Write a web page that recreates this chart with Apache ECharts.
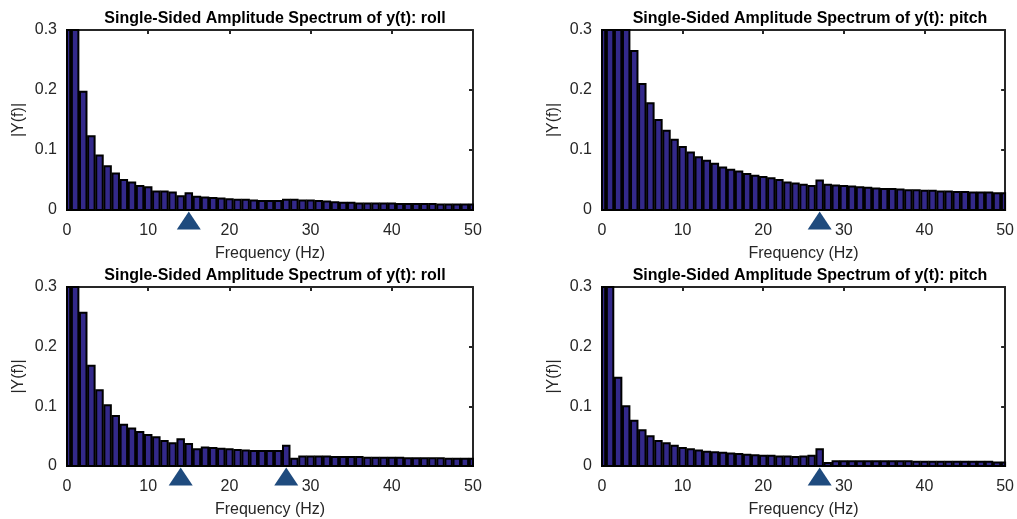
<!DOCTYPE html>
<html>
<head>
<meta charset="utf-8">
<script src="https://cdn.jsdelivr.net/npm/echarts@6/dist/echarts.min.js"></script>
<style>
html,body{margin:0;padding:0;background:#fff;}
#chart{width:1017px;height:519px;}
</style>
</head>
<body>
<div id="chart"></div>
<script>
// Frequency bins (Hz)
const freq = [0,1,2,3,4,5,6,7,8,9,10,11,12,13,14,15,16,17,18,19,20,21,22,23,24,25,26,27,28,29,30,31,32,33,34,35,36,37,38,39,40,41,42,43,44,45,46,47,48,49,50];

// |Y(f)| values for each panel
const rollTop = [0.80,0.36,0.197,0.123,0.091,0.073,0.061,0.050,0.046,0.040,0.038,0.031,0.031,0.029,0.023,0.028,0.022,0.021,0.020,0.019,0.018,0.017,0.017,0.016,0.015,0.015,0.015,0.017,0.017,0.016,0.016,0.015,0.014,0.013,0.012,0.012,0.011,0.011,0.011,0.011,0.011,0.010,0.010,0.010,0.010,0.010,0.009,0.009,0.009,0.009,0.009];
const pitchTop = [0.90,0.60,0.45,0.33,0.265,0.21,0.178,0.150,0.132,0.117,0.105,0.096,0.088,0.082,0.077,0.071,0.067,0.064,0.060,0.057,0.055,0.053,0.050,0.046,0.044,0.042,0.040,0.049,0.042,0.041,0.040,0.039,0.038,0.037,0.036,0.035,0.035,0.034,0.033,0.033,0.032,0.032,0.031,0.031,0.030,0.030,0.029,0.029,0.029,0.028,0.028];
const rollBottom = [0.75,0.42,0.257,0.168,0.127,0.102,0.084,0.069,0.063,0.057,0.052,0.048,0.042,0.038,0.045,0.037,0.028,0.031,0.030,0.029,0.028,0.027,0.026,0.025,0.025,0.025,0.025,0.034,0.012,0.016,0.016,0.016,0.016,0.015,0.015,0.015,0.015,0.014,0.014,0.014,0.014,0.014,0.013,0.013,0.013,0.013,0.013,0.012,0.012,0.012,0.012];
const pitchBottom = [0.70,0.40,0.148,0.100,0.076,0.060,0.050,0.042,0.038,0.034,0.030,0.028,0.026,0.024,0.023,0.022,0.021,0.020,0.019,0.018,0.017,0.017,0.016,0.016,0.015,0.016,0.017,0.028,0.005,0.008,0.008,0.008,0.008,0.008,0.008,0.008,0.008,0.008,0.008,0.007,0.007,0.007,0.007,0.007,0.007,0.007,0.007,0.007,0.007,0.006,0.006];

// Marker (triangle) frequencies per panel
const markersRollTop = [15];
const markersPitchTop = [27];
const markersRollBottom = [14, 27];
const markersPitchBottom = [27];

// Tick labels
const xTicks = [0,10,20,30,40,50];
const yTicks = [0,0.1,0.2,0.3];

const titles = [
  'Single-Sided Amplitude Spectrum of y(t): roll',
  'Single-Sided Amplitude Spectrum of y(t): pitch',
  'Single-Sided Amplitude Spectrum of y(t): roll',
  'Single-Sided Amplitude Spectrum of y(t): pitch'
];
const panelValues = [rollTop, pitchTop, rollBottom, pitchBottom];
const panelMarkers = [markersRollTop, markersPitchTop, markersRollBottom, markersPitchBottom];

const FONT = '"Liberation Sans", Arial, Helvetica, sans-serif';
const AX = '#262626';
const BAR = '#33298a';
const TRI = '#1f4b7e';

const grids = [
  {left: 67, top: 30, width: 406, height: 180},
  {left: 602, top: 30, width: 406, height: 180},
  {left: 67, top: 287, width: 406, height: 180},
  {left: 602, top: 287, width: 406, height: 180}
];

const chart = echarts.init(document.getElementById('chart'), null, {renderer: 'canvas'});

const xAxes = [], yAxes = [], series = [], titleOpts = [];
grids.forEach((g, i) => {
  titleOpts.push({
    text: titles[i],
    left: g.left + g.width / 2,
    top: g.top - 24,
    textAlign: 'center',
    textStyle: {fontFamily: FONT, fontSize: 16, fontWeight: 'bold', color: '#000'}
  });
  const axisLine = {show: true, onZero: false, lineStyle: {color: AX, width: 2}};
  const tick = {show: true, inside: true, length: 4, lineStyle: {color: AX, width: 2}};
  xAxes.push({
    gridIndex: i, type: 'value', position: 'bottom', min: xTicks[0], max: xTicks[xTicks.length - 1], interval: 10,
    axisLine, axisTick: tick, splitLine: {show: false},
    axisLabel: {show: true, margin: 13, fontFamily: FONT, fontSize: 16, color: AX},
    name: 'Frequency (Hz)', nameLocation: 'middle', nameGap: 36,
    nameTextStyle: {fontFamily: FONT, fontSize: 16, color: AX}
  });
  xAxes.push({
    gridIndex: i, type: 'value', position: 'top', min: 0, max: 50, interval: 10,
    axisLine, axisTick: tick, splitLine: {show: false}, axisLabel: {show: false}
  });
  yAxes.push({
    gridIndex: i, type: 'value', position: 'left', min: yTicks[0], max: yTicks[yTicks.length - 1], interval: 0.1,
    axisLine, axisTick: tick, splitLine: {show: false},
    axisLabel: {show: true, margin: 10, fontFamily: FONT, fontSize: 16, color: AX, padding: [4, 0, 0, 0],
      formatter: v => (Math.abs(v) < 1e-9 ? '0' : v.toFixed(1))},
    name: '|Y(f)|', nameLocation: 'middle', nameGap: 40, nameRotate: 90,
    nameTextStyle: {fontFamily: FONT, fontSize: 16, color: AX}
  });
  yAxes.push({
    gridIndex: i, type: 'value', position: 'right', min: 0, max: 0.3, interval: 0.1,
    axisLine, axisTick: tick, splitLine: {show: false}, axisLabel: {show: false}
  });

  const data = freq.map((f, k) => [f, panelValues[i][k]]);
  series.push({
    type: 'custom',
    xAxisIndex: i * 2, yAxisIndex: i * 2,
    data,
    z: 2,
    renderItem: function (params, api) {
      const x = api.value(0), y = api.value(1);
      const p0 = api.coord([x - 0.4, 0]);
      const p1 = api.coord([x + 0.4, y]);
      const rect = {x: p0[0], y: p1[1], width: p1[0] - p0[0], height: p0[1] - p1[1]};
      const cs = params.coordSys;
      const clipped = echarts.graphic.clipRectByRect(rect, {x: cs.x, y: cs.y, width: cs.width, height: cs.height});
      if (!clipped) return null;
      return {type: 'rect', shape: clipped, style: {fill: BAR, stroke: '#000', lineWidth: 2}};
    }
  });
  series.push({
    type: 'scatter',
    xAxisIndex: i * 2, yAxisIndex: i * 2,
    clip: false,
    symbol: 'triangle',
    symbolSize: [24, 18],
    itemStyle: {color: TRI, opacity: 1},
    z: 5,
    data: panelMarkers[i].map(f => [f, -0.0175])
  });
});

chart.setOption({
  animation: false,
  backgroundColor: '#fff',
  title: titleOpts,
  grid: grids.map(g => Object.assign({containLabel: false}, g)),
  xAxis: xAxes,
  yAxis: yAxes,
  series
});
</script>
</body>
</html>
